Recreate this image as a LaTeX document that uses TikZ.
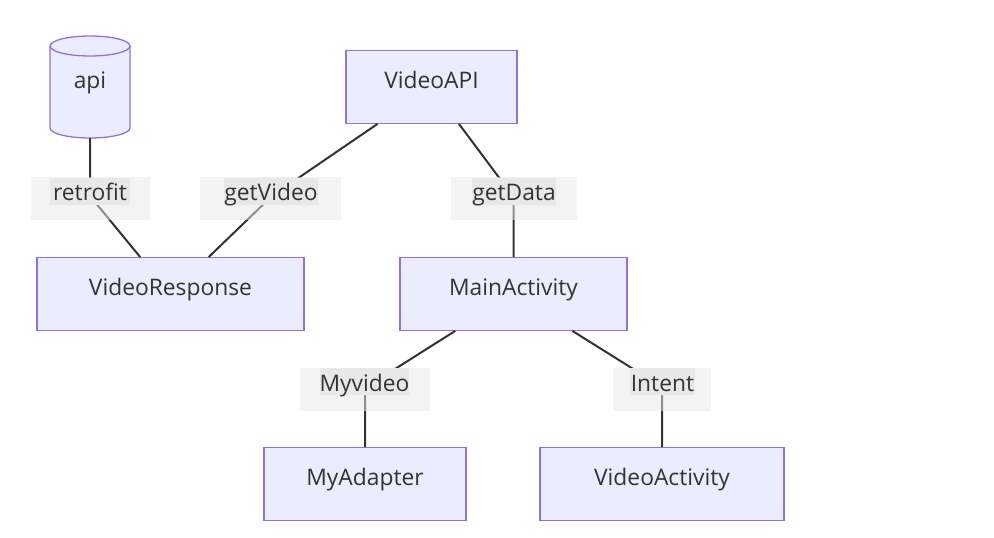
\documentclass[tikz,border=0pt]{standalone}
\usepackage{fontspec}
\setmainfont{Open Sans}
\definecolor{nodefill}{HTML}{ECECFF}
\definecolor{nodeline}{HTML}{9370DB}
\definecolor{edgeline}{HTML}{333333}
\definecolor{lblfill}{HTML}{E8E8E8}
\definecolor{txt}{HTML}{333333}
\tikzset{
  box/.style={draw=nodeline, fill=nodefill, line width=1.3pt, minimum height=72.5pt,
    inner sep=0pt, text height=16pt, text depth=14pt, text=txt,
    font=\fontsize{22.8}{27}\selectfont},
  apibox/.style={draw=none, minimum width=80pt, minimum height=102pt,
    inner sep=0pt, text height=16pt, text depth=14pt, text=txt,
    font=\fontsize{22.8}{27}\selectfont},
  cyl/.style={draw=nodeline, fill=nodefill, line width=1.3pt},
  link/.style={draw=edgeline, line width=2pt},
  lblouter/.style={fill=lblfill, fill opacity=0.5, draw=none, inner sep=0pt,
    minimum height=43pt},
  lblinner/.style={fill=lblfill, draw=none, inner sep=0pt, text=txt,
    text height=23pt, text depth=4pt, font=\fontsize{22.8}{27}\selectfont},
}
\begin{document}
\begin{tikzpicture}[x=1pt, y=-1pt]
\useasboundingbox (0,0) rectangle (994,538);
% cylinder
\path[cyl] (50,46) -- (50,128) arc[start angle=180, end angle=0, x radius=40, y radius=10]
  -- (130,46) arc[start angle=0, end angle=-180, x radius=40, y radius=10] -- cycle;
\draw[cyl, fill=none] (50,46) arc[start angle=180, end angle=0, x radius=40, y radius=10];
\node[apibox] (api) at (90,87) {api};
% nodes
\node[box, minimum width=171pt] (vapi) at (431.5,87) {VideoAPI};
\node[box, minimum width=267pt] (vr) at (170.5,294) {VideoResponse};
\node[box, minimum width=227pt] (ma) at (513.5,294) {MainActivity};
\node[box, minimum width=202pt] (mad) at (365,484) {MyAdapter};
\node[box, minimum width=244pt] (vact) at (662,484) {VideoActivity};
% bend points
\coordinate (b1) at (90,196);
\coordinate (b2) at (272,196);
\coordinate (b3) at (513.5,197);
\coordinate (b4) at (365,388);
\coordinate (b5) at (662,387);
% edges
\draw[link] (api) -- (b1) -- (vr);
\draw[link] (vapi) -- (b2) -- (vr);
\draw[link] (vapi) -- (b3) -- (ma);
\draw[link] (ma) -- (b4) -- (mad);
\draw[link] (ma) -- (b5) -- (vact);
% edge labels
\node[lblouter, minimum width=119pt] (lo1) at (90.5,198.5) {};
\node[lblinner, minimum width=80pt] (l1) at (90,191) {retrofit};
\node[lblouter, minimum width=141pt] (lo2) at (270.5,198.5) {};
\node[lblinner, minimum width=94pt] (l2) at (271,191) {getVideo};
\node[lblouter, minimum width=126pt] (lo3) at (514,198.5) {};
\node[lblinner, minimum width=84pt] (l3) at (514,191) {getData};
\node[lblouter, minimum width=130pt] (lo4) at (365,389.5) {};
\node[lblinner, minimum width=87pt] (l4) at (364.5,381.5) {Myvideo};
\node[lblouter, minimum width=98pt] (lo5) at (662,389.5) {};
\node[lblinner, minimum width=65pt] (l5) at (662.5,381.5) {Intent};
\end{tikzpicture}
\end{document}
